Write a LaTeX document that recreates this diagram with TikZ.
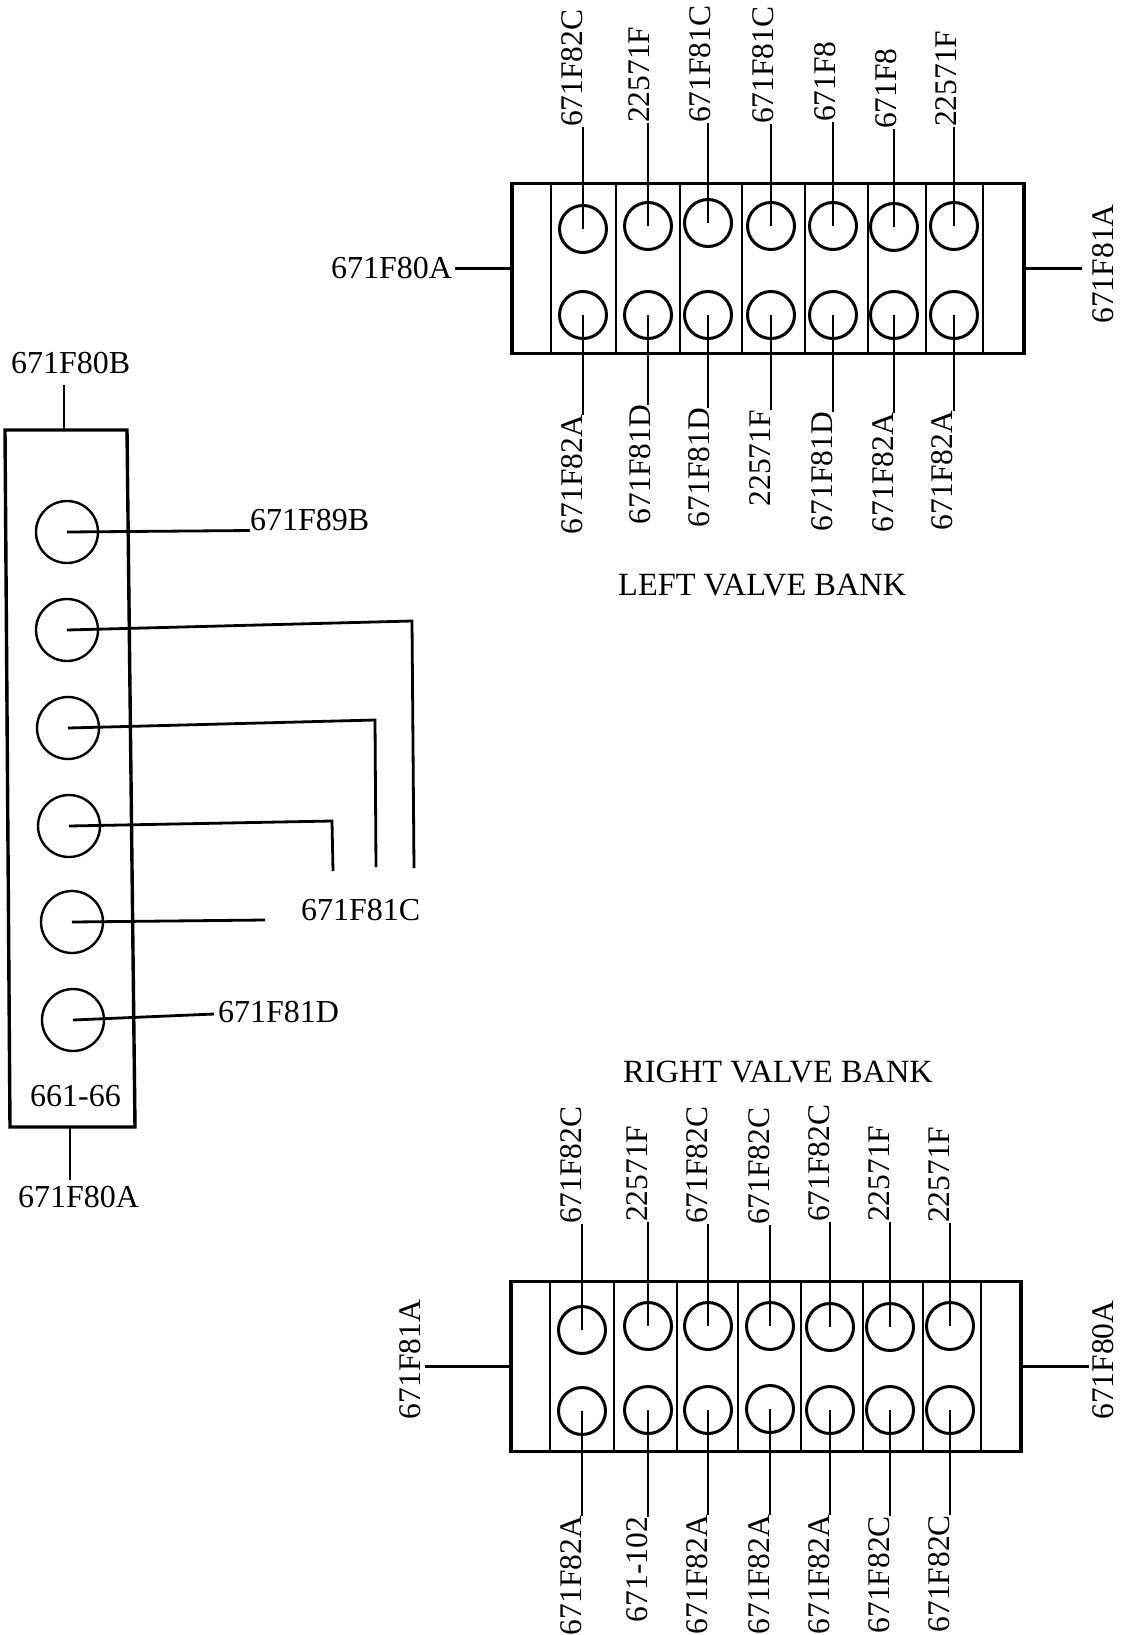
\documentclass[tikz,border=0pt]{standalone}
\usepackage{fontspec}
\setmainfont{Liberation Serif}
\usetikzlibrary{positioning}
\tikzset{
  htag/.style={inner sep=0pt, font=\fontsize{32}{34}\selectfont},
  vtag/.style={inner sep=0pt, rotate=90, font=\fontsize{31.5}{33}\selectfont},
  headline/.style={inner sep=0pt, anchor=base west, font=\fontsize{32.4}{34}\selectfont},
  bank/.style={rectangle, draw=black, line width=3.4pt, inner sep=0pt, minimum width=#1, minimum height=170pt},
  port/.style={circle, draw=black, line width=3pt, inner sep=0pt, minimum size=47pt},
  stack/.style={circle, draw=black, line width=2.4pt, inner sep=0pt, minimum size=62pt},
  wire/.style={line width=2.8pt},
  divider/.style={line width=2.4pt}
}

\begin{document}
\begin{tikzpicture}[x=1pt, y=-1pt]
  \useasboundingbox (0,0) rectangle (1125,1635);

  % left valve bank
  \node[bank=512pt] (lbank) at (768,268.5) {};
  \draw[divider] (551,184) -- (551,354) (616,184) -- (616,354) (680,184) -- (680,354) (742,184) -- (742,354)
    (805,184) -- (805,354) (868,184) -- (868,354) (926,184) -- (926,354) (983,184) -- (983,354);
  \node[port] (lp1) at (583,229) {};
  \node[port] (lp2) at (648,226) {};
  \node[port] (lp3) at (708,223) {};
  \node[port] (lp4) at (771,226) {};
  \node[port] (lp5) at (833,226) {};
  \node[port] (lp6) at (894,227) {};
  \node[port] (lp7) at (954,226) {};
  \node[port] (lq1) at (583,315) {};
  \node[port] (lq2) at (648,315) {};
  \node[port] (lq3) at (708,315) {};
  \node[port] (lq4) at (771,315) {};
  \node[port] (lq5) at (833,315) {};
  \node[port] (lq6) at (894,315) {};
  \node[port] (lq7) at (954,315) {};
  \node[vtag, above=102pt of lp1.center, anchor=south west] (lt1) {671F82C};
  \node[vtag, above=103pt of lp2.center, anchor=south west, yshift=-2pt] (lt2) {22571F};
  \node[vtag, above=100pt of lp3.center, anchor=south west, yshift=-3pt] (lt3) {671F81C};
  \node[vtag, above=102pt of lp4.center, anchor=south west, yshift=-3pt] (lt4) {671F81C};
  \node[vtag, above=104pt of lp5.center, anchor=south west, yshift=-3pt] (lt5) {671F8};
  \node[vtag, above=98pt of lp6.center, anchor=south west, yshift=-3pt] (lt6) {671F8};
  \node[vtag, above=99pt of lp7.center, anchor=south west, yshift=-3pt] (lt7) {22571F};
  \node[vtag, below=100pt of lq1.center, anchor=south east] (lb1) {671F82A};
  \node[vtag, below=90pt of lq2.center, anchor=south east, yshift=-3pt] (lb2) {671F81D};
  \node[vtag, below=93pt of lq3.center, anchor=south east, yshift=-2pt] (lb3) {671F81D};
  \node[vtag, below=95pt of lq4.center, anchor=south east] (lb4) {22571F};
  \node[vtag, below=97pt of lq5.center, anchor=south east] (lb5) {671F81D};
  \node[vtag, below=98pt of lq6.center, anchor=south east] (lb6) {671F82A};
  \node[vtag, below=96pt of lq7.center, anchor=south east, yshift=1pt] (lb7) {671F82A};
  \node[htag, left=58pt of lbank.west] (lwest) {671F80A};
  \node[vtag, right=67pt of lbank.east, anchor=north, xshift=4.5pt] (least) {671F81A};
  \node[headline] (ltitle) at (618,595) {LEFT VALVE BANK};
  \path[wire]
	(lt1.south west) edge (lp1.center)
	(lt2.south west -| lp2.center) edge (lp2.center)
	(lt3.south west -| lp3.center) edge (lp3.center)
	(lt4.south west -| lp4.center) edge (lp4.center)
	(lt5.south west -| lp5.center) edge (lp5.center)
	(lt6.south west -| lp6.center) edge (lp6.center)
	(lt7.south west -| lp7.center) edge (lp7.center)
	(lb1.south east) edge (lq1.center)
	(lb2.south east -| lq2.center) edge (lq2.center)
	(lb3.south east -| lq3.center) edge (lq3.center)
	(lb4.south east) edge (lq4.center)
	(lb5.south east) edge (lq5.center)
	(lb6.south east) edge (lq6.center)
	(lb7.south east -| lq7.center) edge (lq7.center)
	(lwest.east) edge [shorten >=-1pt, shorten <=3pt] (lbank.west)
	(lbank.east) edge [shorten >=11pt] (lbank.east -| least.north)
;

  % right valve bank
  \node[bank=510pt] (rbank) at (766,1366.5) {};
  \draw[divider] (550,1282) -- (550,1451) (614,1282) -- (614,1451) (677,1282) -- (677,1451) (738,1282) -- (738,1451)
    (801,1282) -- (801,1451) (863,1282) -- (863,1451) (923,1282) -- (923,1451) (981,1282) -- (981,1451);
  \node[port] (rp1) at (582,1330) {};
  \node[port] (rp2) at (648,1326) {};
  \node[port] (rp3) at (708,1326) {};
  \node[port] (rp4) at (770,1326) {};
  \node[port] (rp5) at (830,1327) {};
  \node[port] (rp6) at (890,1327) {};
  \node[port] (rp7) at (950,1326) {};
  \node[port] (rq1) at (582,1411) {};
  \node[port] (rq2) at (648,1410) {};
  \node[port] (rq3) at (708,1410) {};
  \node[port] (rq4) at (770,1409) {};
  \node[port] (rq5) at (830,1410) {};
  \node[port] (rq6) at (890,1410) {};
  \node[port] (rq7) at (950,1410) {};
  \node[vtag, above=106pt of rp1.center, anchor=south west] (rt1) {671F82C};
  \node[vtag, above=104pt of rp2.center, anchor=south west] (rt2) {22571F};
  \node[vtag, above=102pt of rp3.center, anchor=south west] (rt3) {671F82C};
  \node[vtag, above=101pt of rp4.center, anchor=south west] (rt4) {671F82C};
  \node[vtag, above=105pt of rp5.center, anchor=south west] (rt5) {671F82C};
  \node[vtag, above=105pt of rp6.center, anchor=south west] (rt6) {22571F};
  \node[vtag, above=103pt of rp7.center, anchor=south west] (rt7) {22571F};
  \node[vtag, below=105pt of rq1.center, anchor=south east] (rb1) {671F82A};
  \node[vtag, below=107pt of rq2.center, anchor=south east] (rb2) {671-102};
  \node[vtag, below=105pt of rq3.center, anchor=south east] (rb3) {671F82A};
  \node[vtag, below=106pt of rq4.center, anchor=south east] (rb4) {671F82A};
  \node[vtag, below=105pt of rq5.center, anchor=south east] (rb5) {671F82A};
  \node[vtag, below=106pt of rq6.center, anchor=south east] (rb6) {671F82C};
  \node[vtag, below=105pt of rq7.center, anchor=south east] (rb7) {671F82C};
  \node[vtag, left=88pt of rbank.west, anchor=south, xshift=7pt] (rwest) {671F81A};
  \node[vtag, right=70pt of rbank.east, anchor=north, xshift=6.5pt] (reast) {671F80A};
  \node[headline] (rtitle) at (623,1082) {RIGHT VALVE BANK};
  \path[wire]
	(rt1.south west) edge (rp1.center)
	(rt2.south west) edge (rp2.center)
	(rt3.south west) edge (rp3.center)
	(rt4.south west) edge (rp4.center)
	(rt5.south west) edge (rp5.center)
	(rt6.south west) edge (rp6.center)
	(rt7.south west) edge (rp7.center)
	(rb1.south east) edge (rq1.center)
	(rb2.south east) edge (rq2.center)
	(rb3.south east) edge (rq3.center)
	(rb4.south east) edge (rq4.center)
	(rb5.south east) edge (rq5.center)
	(rb6.south east) edge (rq6.center)
	(rb7.south east) edge (rq7.center)
	(rbank.west) edge [shorten >=4pt] (rbank.west -| rwest.south)
	(rbank.east) edge [shorten >=3.5pt] (rbank.east -| reast.north)
;

  % upright block
  \draw[line width=3.4pt] (5,430) -- (127,430) -- (135,1127) -- (10,1127) -- cycle;
  \coordinate (bt) at (64,430);
  \coordinate (bb) at (70,1127);
  \node[stack] (s1) at (67,532) {};
  \node[stack] (s2) at (67,630) {};
  \node[stack] (s3) at (68,728) {};
  \node[stack] (s4) at (69,826) {};
  \node[stack] (s5) at (72,922) {};
  \node[stack] (s6) at (73,1020) {};
  \node[htag, anchor=base west] (btop) at (11,373) {671F80B};
  \node[htag, anchor=base west] (bbot) at (18,1207) {671F80A};
  \node[htag, anchor=base west] (bnum) at (30,1106) {661-66};
  \node[htag, anchor=base west] (s1tag) at (250,530) {671F89B};
  \node[htag, anchor=base west] (s234tag) at (301,920) {671F81C};
  \node[htag, anchor=base west] (s6tag) at (218,1022) {671F81D};
  \coordinate (btopend) at (64,385);
  \coordinate (bbotend) at (70,1180);
  \coordinate (s2bend) at (412,621);
  \coordinate (s2end) at (414,868);
  \coordinate (s3bend) at (375,720);
  \coordinate (s3end) at (376,867);
  \coordinate (s4bend) at (332,821);
  \coordinate (s4end) at (333,871);
  \coordinate (s5end) at (265,920);
  \coordinate (s6end) at (214,1014);
  \path[wire]
	(btopend) edge (bt)
	(bb) edge (bbotend)
	(s1.center) edge (s1tag.south west)
	(s5.center) edge (s5end)
	(s6.center) edge (s6end)
;
  \draw[wire] (s2.center) -- (s2bend) -- (s2end);
  \draw[wire] (s3.center) -- (s3bend) -- (s3end);
  \draw[wire] (s4.center) -- (s4bend) -- (s4end);
\end{tikzpicture}
\end{document}
